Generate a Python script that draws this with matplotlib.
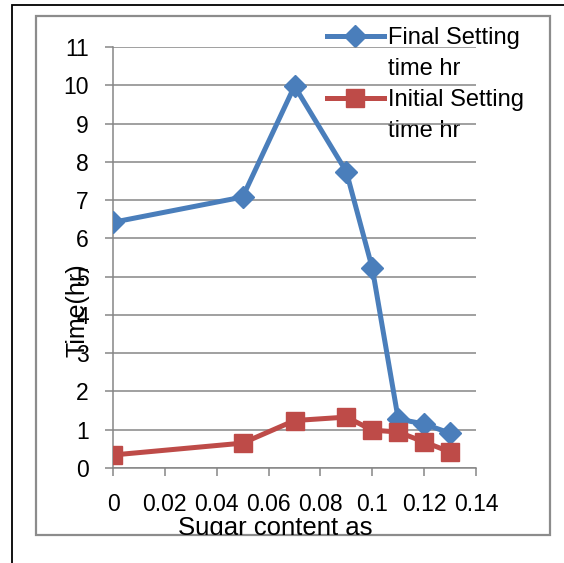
import matplotlib.pyplot as plt
from matplotlib.lines import Line2D
from matplotlib.patches import Rectangle

plt.rcParams['font.family'] = ['Liberation Sans', 'DejaVu Sans']

# data
sugar = [0, 0.05, 0.07, 0.09, 0.10, 0.11, 0.12, 0.13]
final_time = [6.42, 7.08, 9.98, 7.74, 5.22, 1.28, 1.15, 0.91]
initial_time = [0.34, 0.65, 1.24, 1.33, 0.99, 0.94, 0.68, 0.42]
xticks = [0, 0.02, 0.04, 0.06, 0.08, 0.10, 0.12, 0.14]
yticks = list(range(0, 12))

blue = '#4A7EBB'
red = '#BE4B48'
gray = '#868686'

W, H = 564, 563
fig = plt.figure(figsize=(W / 100, H / 100), dpi=100)
ax = fig.add_axes([113 / W, 1 - 468 / H, (476 - 113) / W, (468 - 47) / H])

ax.plot(sugar, final_time, color=blue, lw=3.6, marker='D', ms=11, zorder=3)
ax.plot(sugar, initial_time, color=red, lw=3.6, marker='s', ms=13.5, zorder=3)

ax.set_xlim(0, 0.14)
ax.set_ylim(0, 11)
ax.set_xticks(xticks)
ax.set_xticklabels([f'{v:g}' for v in xticks])
ax.set_yticks(yticks)
ax.grid(axis='y', color=gray, lw=1.1)
ax.set_axisbelow('line')
for s in ['top', 'right']:
    ax.spines[s].set_visible(False)
for s in ['left', 'bottom']:
    ax.spines[s].set_color(gray)
    ax.spines[s].set_linewidth(1.1)
ax.tick_params(axis='x', length=5.8, width=1.1, color=gray, pad=12, labelsize=16.5)
ax.tick_params(axis='y', length=5.5, width=1.1, color=gray, pad=12, labelsize=16.5)

# y label sits on top of the 3 / 4 / 5 tick labels like in the original
fig.text(78 / W, 1 - 310 / H, 'Time(hr)', rotation=90, fontsize=18,
         ha='center', va='center')

handles = [Line2D([], [], color=blue, lw=3.6, marker='D', ms=11),
           Line2D([], [], lw=0),
           Line2D([], [], color=red, lw=3.6, marker='s', ms=13.5),
           Line2D([], [], lw=0)]
labels = ['Final Setting', 'time hr', 'Initial Setting', 'time hr']
leg = ax.legend(handles, labels, loc='upper left', bbox_to_anchor=(327 / W, 1 - 27 / H),
                bbox_transform=fig.transFigure, frameon=False, fontsize=17,
                borderpad=0, borderaxespad=0, handlelength=2.4, handletextpad=0.2,
                labelspacing=0.38, numpoints=1)
leg.set_zorder(1)

# chart borders
inner = Rectangle((36 / W, 1 - 535 / H), (550 - 36) / W, (535 - 16) / H,
                  transform=fig.transFigure, fill=False, ec='#8C8C8C', lw=1.6)
fig.add_artist(inner)
outer = Rectangle((12 / W, -0.2), 2, 1.2 - 5 / H, transform=fig.transFigure,
                  fill=False, ec='black', lw=1.3)
fig.add_artist(outer)

xl = fig.text(275 / W, 1 - 535 / H, 'Sugar content as', fontsize=18.5,
              ha='center', va='baseline')
clip = Rectangle((36 / W, 1 - 535 / H), (550 - 36) / W, (535 - 16) / H,
                 transform=fig.transFigure)
xl.set_clip_path(clip)

fig.savefig('out.png', dpi=100)
